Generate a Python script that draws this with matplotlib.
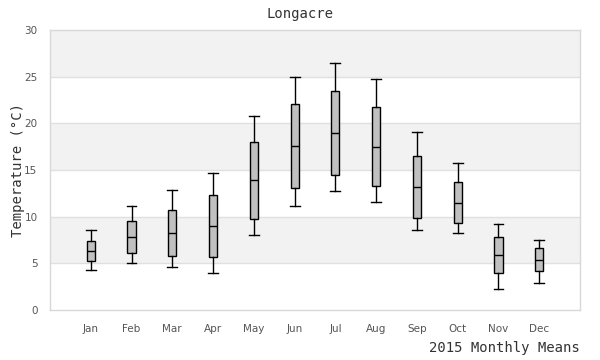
import matplotlib
matplotlib.use("Agg")
import matplotlib.pyplot as plt

months = ["Jan", "Feb", "Mar", "Apr", "May", "Jun", "Jul", "Aug", "Sep", "Oct", "Nov", "Dec"]
whisker_low = [4.25, 5.0, 4.57, 3.93, 8.0, 11.1, 12.71, 11.54, 8.54, 8.21, 2.21, 2.86]
q1 = [5.21, 6.1, 5.75, 5.64, 9.71, 13.04, 14.43, 13.25, 9.82, 9.29, 3.93, 4.14]
median = [6.32, 7.79, 8.21, 8.96, 13.89, 17.57, 18.93, 17.46, 13.14, 11.43, 5.86, 5.32]
q3 = [7.36, 9.5, 10.75, 12.29, 17.96, 22.04, 23.43, 21.71, 16.46, 13.68, 7.79, 6.61]
whisker_high = [8.53, 11.1, 12.82, 14.64, 20.82, 24.93, 26.43, 24.71, 19.04, 15.71, 9.18, 7.46]
yticks = [0, 5, 10, 15, 20, 25, 30]

fig = plt.figure(figsize=(6, 3.6), dpi=100)
ax = fig.add_axes([50/600, 50/360, 530/600, 280/360])

# alternating bands
for i, lo in enumerate(range(0, 30, 5)):
    if i % 2 == 1:
        ax.axhspan(lo, lo + 5, color="#f2f2f2", zorder=0, lw=0)
for y in yticks[1:-1]:
    ax.axhline(y, color="#e0e0e0", lw=1, zorder=1)

stats = []
for i, m in enumerate(months):
    stats.append(dict(label=m, whislo=whisker_low[i], q1=q1[i], med=median[i],
                      q3=q3[i], whishi=whisker_high[i], fliers=[]))
positions = list(range(1, len(months) + 1))
ax.bxp(stats, positions=positions, widths=0.2, patch_artist=True, showfliers=False,
       boxprops=dict(facecolor="#c0c0c0", edgecolor="black", lw=1.0),
       medianprops=dict(color="black", lw=1.0),
       whiskerprops=dict(color="black", lw=1.0),
       capprops=dict(color="black", lw=1.0), capwidths=0.24, zorder=3)

ax.set_xlim(0, 13)
ax.set_ylim(0, 30)
ax.set_yticks(yticks)
ax.set_xticks(positions)
ax.set_xticklabels(months)
ax.tick_params(axis="both", length=0, labelsize=7.5, labelcolor="#555555")
ax.tick_params(axis="x", pad=10)
ax.tick_params(axis="y", pad=9)
for s in ax.spines.values():
    s.set_color("#d8d8d8")
    s.set_linewidth(1)

ax.set_ylabel("Temperature (°C)", family="DejaVu Sans Mono", fontsize=10, color="#333333")
ax.yaxis.set_label_coords(-25/530, 0.5)
fig.text(300/600, 1 - 14/360, "Longacre", family="DejaVu Sans Mono", fontsize=10,
         color="#333333", ha="center", va="center")
fig.text(580/600, 1 - 348/360, "2015 Monthly Means", family="DejaVu Sans Mono", fontsize=10,
         color="#333333", ha="right", va="center")

fig.savefig("out.png", dpi=100)
